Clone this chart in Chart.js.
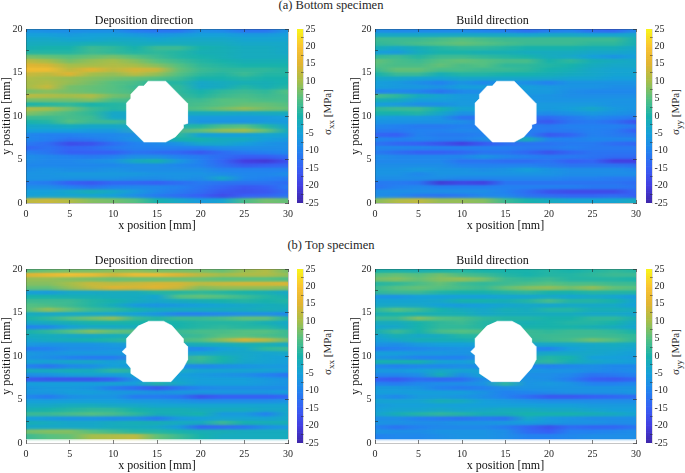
<!DOCTYPE html>
<html>
<head>
<meta charset="utf-8">
<title>Residual stress maps</title>
<script src="https://cdn.jsdelivr.net/npm/chart.js@4"></script>
<style>
  html, body { margin: 0; padding: 0; background: #fff; }
  body { position: relative; width: 685px; height: 473px; overflow: hidden; font-family: "Liberation Serif", serif; color: #262626; }
  canvas { position: absolute; }
  .head { position: absolute; left: 131px; width: 400px; text-align: center; font-size: 12.5px; line-height: 14px; }
  .cblabel { position: absolute; width: 100px; text-align: center; font-size: 11px; line-height: 14px; transform: rotate(-90deg); white-space: nowrap; }
  .cblabel sub { font-size: 9px; line-height: 0; }
</style>
</head>
<body>
<div class="head" style="top:-2px">(a) Bottom specimen</div>
<div class="head" style="top:238px">(b) Top specimen</div>
<div class="cblabel" style="left:277px;top:105px">σ<sub>xx</sub> [MPa]</div>
<div class="cblabel" style="left:625px;top:105px">σ<sub>yy</sub> [MPa]</div>
<div class="cblabel" style="left:277px;top:345px">σ<sub>xx</sub> [MPa]</div>
<div class="cblabel" style="left:625px;top:345px">σ<sub>yy</sub> [MPa]</div>
<canvas id="heatA" width="296" height="219" style="left:0;top:14px"></canvas>
<canvas id="heatB" width="295" height="219" style="left:349px;top:14px"></canvas>
<canvas id="heatC" width="296" height="219" style="left:0;top:254px"></canvas>
<canvas id="heatD" width="295" height="219" style="left:349px;top:254px"></canvas>
<canvas id="barA" width="34" height="219" style="left:292px;top:14px"></canvas>
<canvas id="barB" width="34" height="219" style="left:641px;top:14px"></canvas>
<canvas id="barC" width="34" height="219" style="left:292px;top:254px"></canvas>
<canvas id="barD" width="34" height="219" style="left:641px;top:254px"></canvas>
<script>
// Stress maps, in MPa. One list per row (top row first), one value per
// column of columnX. null = inside the hole.
const n = null;
const columnX = [0, 2.5, 5, 7.5, 10, 12.5, 15, 17.5, 20, 22.5, 25, 27.5, 30];
const rowY = [19.75, 19.25, 18.75, 18.25, 17.75, 17.25, 16.75, 16.25, 15.75, 15.25, 14.75, 14.25, 13.75, 13.25,
  12.75, 12.25, 11.75, 11.25, 10.75, 10.25, 9.75, 9.25, 8.75, 8.25, 7.75, 7.25, 6.75, 6.25, 5.75, 5.25, 4.75,
  4.25, 3.75, 3.25, 2.75, 2.25, 1.75, 1.25, 0.75, 0.25];

const bottomDeposition = [
  [-7,-8,-8,-8,-8,-11,-12,-12,-8,-9,-12,-12,-7],
  [-5,-5,-6,-5,-5,-6,-7,-6,-5,-5,-6,-6,-5],
  [-3,-3,-4,-4,-3,-3,-4,-3,-3,-3,-4,-4,-4],
  [-2,-2,-2,-1,-1,-2,-2,-2,-2,-2,-3,-3,-3],
  [-1,0,0,3,2,0,3,3,0,-1,-2,-2,-3],
  [1,1,1,3,2,1,2,1,-1,-1,-2,-2,-3],
  [7,6,5,6,7,5,3,1,0,-1,-2,-2,-2],
  [12,10,7,9,10,8,5,3,1,0,-1,-1,-1],
  [15,14,10,10,11,10,8,5,2,1,0,0,0],
  [18,18,12,15,12,14,13,6,3,2,2,2,1],
  [13,12,15,10,9,12,9,5,2,1,3,1,1],
  [11,10,9,8,7,6,5,3,0,0,1,0,0],
  [10,11,9,7,5,4,1,1,-3,-2,-1,-1,0],
  [10,13,7,6,5,3,n,2,-3,-2,1,-1,1],
  [7,8,7,6,5,n,n,2,0,2,3,2,5],
  [12,11,10,11,7,n,n,n,1,3,4,3,4],
  [7,7,7,8,4,n,n,n,3,5,5,4,4],
  [0,1,2,0,1,n,n,n,4,5,6,6,5],
  [11,10,7,3,1,n,n,n,5,7,9,7,6],
  [8,6,4,2,-3,n,n,n,-2,-2,-3,-2,-2],
  [3,3,4,3,-3,n,n,n,-6,-6,-6,-6,-5],
  [0,1,5,3,3,n,n,n,-7,-7,-7,-6,-6],
  [-3,-3,-2,-3,-3,n,n,n,1,4,5,1,-4],
  [-5,-5,-5,-6,-6,n,n,n,6,9,10,6,-2],
  [-9,-10,-10,-9,-9,-8,n,2,-5,-5,-5,-4,-4],
  [-9,-10,-12,-11,-9,-7,n,0,0,-2,-2,-5,-6],
  [-11,-13,-18,-17,-13,-10,-9,-7,-3,-3,-5,-7,-8],
  [-14,-12,-14,-13,-11,-10,-10,-10,-10,-8,-8,-8,-8],
  [-10,-12,-15,-15,-15,-12,-13,-14,-16,-13,-11,-10,-9],
  [-8,-9,-10,-11,-10,-8,-8,-10,-11,-13,-15,-15,-13],
  [-8,-9,-9,-8,-7,-2,0,-6,-10,-14,-20,-21,-17],
  [-9,-9,-9,-9,-9,-8,-8,-9,-10,-13,-16,-15,-14],
  [-8,-7,-8,-8,-7,-8,-8,-8,-8,-10,-10,-10,-10],
  [-7,-7,-6,-6,-6,-6,-7,-7,-7,-8,-9,-9,-8],
  [-7,-7,-7,-7,-7,-8,-8,-7,-8,-3,-9,-10,-11],
  [-10,-11,-15,-16,-14,-14,-15,-13,-11,-12,-12,-12,-13],
  [-8,-8,-10,-12,-10,-9,-9,-10,-12,-14,-16,-15,-11],
  [-5,-5,-3,-1,-3,-6,-9,-11,-13,-16,-17,-16,-13],
  [-5,-4,-4,-4,-5,-8,-11,-13,-15,-18,-15,-14,-12],
  [12,13,11,8,7,5,0,-3,-6,-4,4,7,6]
];

const bottomBuild = [
  [-8,-9,-9,-9,-9,-10,-11,-13,-11,-10,-13,-14,-9],
  [-3,-3,-3,-3,-3,-3,-3,-4,-3,-3,-4,-4,-3],
  [3,3,3,4,5,4,3,3,3,3,3,3,-1],
  [2,3,4,5,6,5,4,3,3,3,2,2,-1],
  [-1,-3,-1,1,2,2,1,0,0,0,-1,-1,-3],
  [-5,-6,-2,0,0,-1,-1,-2,-2,-2,-3,-3,-4],
  [2,3,1,3,3,2,1,0,-2,-3,-5,-7,-5],
  [6,4,3,5,6,5,4,4,0,2,-1,-2,-3],
  [5,4,4,6,4,5,2,2,1,0,-2,-3,-3],
  [3,6,6,4,4,3,3,2,0,-1,-3,-4,-4],
  [0,3,3,-1,1,1,0,0,-1,-2,-3,-4,-4],
  [-3,-3,-4,-4,-3,-3,-3,-3,-3,-4,-4,-5,-5],
  [-5,-6,-8,-10,-7,-9,-7,-8,-10,-7,-7,-7,-7],
  [-5,-6,-6,-7,-5,-5,n,-5,-6,-7,-7,-8,-8],
  [-10,-9,-10,-12,-9,n,n,-6,-6,-8,-9,-9,-9],
  [4,2,-2,-4,-6,n,n,n,-7,-8,-8,-8,-8],
  [-1,-2,-5,-5,-6,n,n,n,-7,-7,-7,-7,-7],
  [-5,-6,-8,-8,-6,n,n,n,-6,-6,-6,-7,-7],
  [2,3,3,0,-4,n,n,n,-6,-5,-3,-6,-7],
  [0,0,1,-3,-7,n,n,n,-8,-7,-6,-7,-8],
  [-5,-6,-6,-7,-12,n,n,n,-13,-11,-9,-10,-11],
  [-7,-7,-7,-7,-8,n,n,n,-16,-12,-11,-13,-17],
  [-9,-10,-11,-11,-10,n,n,n,-11,-10,-10,-10,-11],
  [-11,-11,-10,-10,-9,n,n,n,-11,-11,-10,-11,-15],
  [-14,-15,-10,-11,-11,-10,n,-10,-16,-14,-10,-11,-12],
  [-9,-10,-9,-10,-10,-8,n,-1,-9,-10,-9,-9,-9],
  [-12,-14,-15,-17,-20,-16,-13,-12,-12,-11,-11,-13,-14],
  [-9,-9,-9,-10,-10,-10,-10,-11,-11,-10,-11,-11,-11],
  [-11,-13,-15,-15,-14,-12,-12,-14,-17,-14,-12,-12,-12],
  [-8,-9,-9,-9,-9,-7,-9,-10,-11,-11,-12,-13,-13],
  [-9,-9,-9,-9,-12,-12,-13,-13,-12,-15,-14,-20,-20],
  [-8,-8,-8,-8,-10,-10,-10,-10,-11,-12,-12,-12,-13],
  [-7,-7,-6,-7,-7,-8,-7,-5,-7,-8,-8,-8,-9],
  [-7,-7,-9,-7,-7,-7,-7,-7,-7,-8,-8,-8,-8],
  [-8,-8,-8,-8,-9,-9,-9,-9,-9,-10,-10,-11,-11],
  [-11,-11,-12,-21,-19,-20,-12,-12,-12,-12,-12,-12,-13],
  [-12,-10,-9,-10,-10,-10,-10,-10,-10,-10,-11,-11,-12],
  [-8,-8,-8,-8,-8,-8,-10,-13,-17,-18,-18,-18,-14],
  [-8,-9,-11,-12,-11,-9,-9,-12,-13,-14,-14,-13,-15],
  [8,11,12,9,9,8,3,0,-2,-4,-4,-4,-2]
];

// The top specimen has no row at y = 0.25, the map stops at y = 0.5.
const topDeposition = [
  [5,6,7,7,8,8,7,7,7,6,9,11,7],
  [15,17,19,18,14,18,18,15,12,10,11,11,9],
  [9,9,8,7,6,6,6,6,6,5,5,5,4],
  [8,8,10,13,12,13,14,14,12,13,14,14,15],
  [6,6,9,12,15,14,15,13,8,9,9,9,8],
  [-5,-6,-3,-3,-2,-2,1,1,2,1,0,-1,-3],
  [0,0,-1,-1,-2,-2,-4,5,6,5,3,1,-1],
  [3,3,3,1,0,-2,-3,-2,-1,0,1,0,1],
  [5,4,3,1,-2,-6,-7,-6,-5,-4,-3,-2,-1],
  [5,9,6,3,2,0,-2,-2,-2,-2,-2,-1,-2],
  [-2,-3,-3,-3,-4,-5,-7,-10,-10,-9,-8,-8,-9],
  [0,2,5,7,9,3,1,3,3,4,6,6,1],
  [-3,-2,-1,0,0,0,n,0,1,1,1,-1,-3],
  [-10,-9,-5,-3,-3,-2,n,0,1,2,1,1,-2],
  [0,2,5,8,6,n,n,3,4,4,5,5,3],
  [-2,-2,-3,-3,-2,n,n,n,3,5,5,4,3],
  [-4,-2,-1,0,1,n,n,n,5,9,15,12,7],
  [-6,-7,-7,-7,-6,n,n,n,-1,-2,-1,-1,-3],
  [-11,-10,-8,-8,-7,n,n,n,-9,-5,-3,2,3],
  [-6,-7,-6,-6,-6,n,n,n,-4,-3,-3,-4,-3],
  [-7,-8,-10,-11,-11,n,n,n,3,0,-3,-4,-5],
  [-4,-4,-3,-3,-5,n,n,n,2,0,-3,-4,-5],
  [-10,-12,-9,-8,-5,n,n,n,-9,-8,-7,-6,-6],
  [-2,-2,-1,-2,2,n,n,n,-4,-4,-4,-4,-5],
  [-8,-7,-5,-4,-5,-4,n,-5,-6,-7,-8,-10,-12],
  [-16,-17,-17,-17,-15,-7,n,-4,-5,-5,-5,-6,-7],
  [-5,-5,-5,-5,-4,-5,1,-3,-5,-5,-5,-6,-7],
  [-7,-6,-6,-7,-11,-13,-16,-12,-9,-8,-8,-8,-8],
  [-6,-6,-5,-5,-6,-6,-7,-6,-6,-6,-6,-6,-5],
  [-9,-11,-8,-7,-7,-11,-11,-12,-17,-15,-15,-15,-14],
  [-5,-5,-5,-5,-5,-6,-6,-7,-8,-8,-8,-8,-7],
  [-3,-3,-2,-2,-3,-3,-4,-4,-4,-4,-4,-4,-4],
  [-1,0,1,2,2,0,-1,-1,-2,-2,-2,-3,-3],
  [3,3,4,5,4,2,-1,-1,0,-6,-6,-10,-3],
  [-5,-6,-7,-7,-8,-8,-11,-6,-5,-4,-4,-4,-3],
  [-1,-2,-3,-3,-2,-1,-1,-2,-2,3,0,-1,-1],
  [-3,-3,-3,-3,-2,-2,-3,-6,-14,-13,-12,-8,-6],
  [7,8,8,5,3,1,1,0,-1,-1,-2,-2,-2],
  [3,5,6,10,11,12,6,3,0,-2,-2,-2,-2]
];

const topBuild = [
  [0,0,-1,0,1,0,0,0,1,0,1,2,1],
  [5,6,5,7,4,3,1,0,1,1,2,3,3],
  [7,8,6,8,9,7,3,2,3,1,1,1,0],
  [1,2,4,6,3,2,3,4,5,4,4,3,3],
  [3,5,6,5,4,3,6,8,9,7,9,6,5],
  [2,3,3,1,0,0,1,2,0,0,1,1,1],
  [-7,-7,-5,-5,-5,-5,-4,-4,-3,-4,-3,-4,-6],
  [-4,-4,-4,-3,0,0,-1,1,4,1,1,0,-4],
  [-3,-3,-3,-5,-6,-5,-4,-3,-4,-3,-3,-3,-5],
  [2,5,3,0,-2,-3,-1,-2,1,1,-1,-1,-2],
  [-1,0,-1,-1,-1,-3,-2,-2,-2,-2,-3,-3,-4],
  [3,3,8,5,4,2,1,1,0,0,2,2,-1],
  [-2,-2,0,2,3,1,n,-1,0,1,1,0,-3],
  [-4,-3,0,2,2,1,n,0,0,0,-1,-2,-4],
  [-1,3,0,4,5,n,n,3,2,3,3,2,0],
  [-4,-1,-3,-2,1,n,n,n,3,3,3,3,2],
  [-5,-3,-1,-1,-1,n,n,n,3,4,7,5,2],
  [-7,-8,-6,-5,-5,n,n,n,-3,-3,-3,-2,-3],
  [-11,-10,-9,-8,-7,n,n,n,-10,-5,-3,-3,-4],
  [-5,-5,-6,-6,-7,n,n,n,-3,-3,-3,-4,-5],
  [-7,-8,-10,-10,-10,n,n,n,1,0,-5,-5,-6],
  [0,0,0,-4,-5,n,n,n,2,-1,-3,-4,-5],
  [-9,-10,-9,-9,-8,n,n,n,-10,-9,-8,-9,-9],
  [-6,-6,-5,-3,-4,n,n,n,-7,-7,-8,-9,-8],
  [-9,-9,-8,-1,-8,-4,n,-8,-8,-9,-12,-11,-10],
  [-15,-16,-13,-14,-13,-8,n,-7,-8,-11,-15,-16,-14],
  [-10,-11,-9,-8,-8,-7,2,-7,-6,-7,-10,-10,-9],
  [-6,-6,-7,-10,-11,-10,-8,-7,-7,-7,-7,-7,-7],
  [-5,-5,-5,-5,-5,-7,-10,-9,-8,-7,-7,-7,-6],
  [-7,-9,-6,-6,-7,-8,-10,-13,-16,-16,-15,-14,-13],
  [-4,-4,-4,-1,-2,-5,-6,-7,-8,-8,-8,-8,-8],
  [-6,-5,-5,-5,-5,-5,-5,-5,-5,-5,-6,-6,-6],
  [-5,-4,-4,-3,-4,-3,-2,-2,-3,-3,-4,-5,-5],
  [-4,-1,1,2,1,-1,-1,0,0,0,-1,-2,-4],
  [-8,-8,-10,-11,-12,-11,-12,-3,-6,-7,-8,-8,-8],
  [-7,-7,-8,-8,-7,-7,-6,-5,-6,-7,-7,-8,-8],
  [-10,-12,-10,-9,-9,-9,-11,-14,-17,-13,-14,-14,-12],
  [-7,-8,-8,-7,-7,-7,-8,-13,-15,-10,-10,-9,-8],
  [-10,-9,-9,-8,-7,-7,-8,-10,-10,-9,-8,-8,-8]
];

// Outline of the hole in mm, different for the two specimens.
const holeBottomX = [13.95, 16, 18.5, 18.5, 18, 18, 17.1, 16, 13.5, 11.5, 11.5, 12, 12, 12.9, 13.45];
const holeBottomY = [14, 14, 11.45, 9.15, 9, 8.6, 7.6, 7, 7, 9, 11.5, 12, 12.5, 13.45, 13.45];
const holeTopX = [14, 15.75, 16.7, 18, 18, 18.5, 18.5, 18, 16.6, 13.4, 12, 12, 11.5, 11.5, 11, 11.5, 11.5, 12.9];
const holeTopY = [14, 14, 13.5, 12, 11.6, 11.1, 9.55, 8.6, 7.05, 7.05, 8, 8.6, 9.2, 10.1, 10.5, 11, 12, 13.5];

// Colour scale: stress value -> colour, linear between the stops.
const scaleValues = [-25, -20, -15, -10, -5, 0, 5, 10, 15, 20, 25];
const scaleColors = [[62,38,168],[68,62,225],[55,95,245],[35,130,240],[22,160,218],[24,178,172],
  [85,192,130],[165,190,75],[225,180,50],[250,195,50],[249,245,25]];

const AXIS = "#262626";
const FONT = "'Liberation Serif', serif";

function colorOf(v) {
  const t = Math.min(Math.max((v + 25) / 5, 0), scaleValues.length - 1.001);
  const i = Math.floor(t), f = t - i;
  const c = scaleColors[i].map((a, k) => Math.round(a + (scaleColors[i + 1][k] - a) * f));
  return "rgb(" + c.join(",") + ")";
}

// Fixed axis boxes, so the plot areas land where the figure has them.
const fixWidth = (w) => (s) => { s.width = w; s.paddingTop = s.paddingBottom = 0; };
const fixHeight = (h) => (s) => { s.height = h; s.paddingLeft = s.paddingRight = 0; };

// Ticks point into the plot (negative length), and sit above the bars (z).
function tickGrid() {
  return { drawOnChartArea: false, tickLength: -3, color: AXIS, lineWidth: 0.6, z: 1 };
}
const frame = { color: "rgba(38,38,38,0.45)", width: 0.6, z: 1 };

// Softens the steps between rows on the second copy of the bars.
const softRows = {
  id: "softRows",
  beforeDatasetDraw(chart, args) { if (args.index === 1) chart.ctx.filter = "blur(1.4px)"; },
  afterDatasetDraw(chart, args) { if (args.index === 1) chart.ctx.filter = "none"; },
};

// Each row is one bar across the plot, painted with a gradient through its column values.
function rowFill(rows) {
  return (ctx) => {
    const chart = ctx.chart;
    if (!chart.chartArea || ctx.dataIndex == null) return "#fff";
    const xs = chart.scales.x;
    const g = chart.ctx.createLinearGradient(xs.getPixelForValue(0), 0, xs.getPixelForValue(30), 0);
    rows[ctx.dataIndex].forEach((v, i) => {
      if (v !== null) g.addColorStop(columnX[i] / 30, colorOf(v));
    });
    return g;
  };
}

function drawMap(id, rows, holeX, holeY, title) {
  const bars = rows.map((r, i) => ({ x: [0, 30], y: rowY[i] }));
  const common = { type: "bar", indexAxis: "y", data: bars, backgroundColor: rowFill(rows),
    borderWidth: 0, barPercentage: 1, categoryPercentage: 1, grouped: false };
  return new Chart(document.getElementById(id), {
    data: {
      datasets: [
        Object.assign({ order: 3 }, common),
        Object.assign({ order: 2 }, common),
        { type: "line", order: 1, data: holeX.map((x, i) => ({ x, y: holeY[i] })), fill: "shape",
          backgroundColor: "#fff", borderColor: "#fff", borderWidth: 0.5, pointRadius: 0, tension: 0 },
      ],
    },
    plugins: [softRows],
    options: {
      responsive: false,
      animation: false,
      events: [],
      layout: { padding: { right: 8 } },
      plugins: {
        legend: { display: false },
        tooltip: { enabled: false },
        title: { display: true, text: title, color: "#111", padding: { top: 0, bottom: 2 },
          font: { family: FONT, size: 12, weight: "normal", lineHeight: "13px" } },
      },
      scales: {
        x: { type: "linear", min: 0, max: 30, offset: false, afterFit: fixHeight(30),
          ticks: { stepSize: 5, color: AXIS, padding: 8, maxRotation: 0, font: { family: FONT, size: 10 } },
          grid: tickGrid(), border: frame,
          title: { display: true, text: "x position [mm]", color: "#111", padding: 0,
            font: { family: FONT, size: 12, lineHeight: "14px" } } },
        y: { type: "linear", min: 0, max: 20, offset: false, afterFit: fixWidth(26),
          ticks: { stepSize: 5, color: AXIS, padding: 6.5, font: { family: FONT, size: 10 } },
          grid: tickGrid(), border: frame,
          title: { display: true, text: "y position [mm]", color: "#111", padding: 0,
            font: { family: FONT, size: 12, lineHeight: "14px" } } },
        xTop: { type: "linear", position: "top", min: 0, max: 30, afterFit: fixHeight(0),
          ticks: { stepSize: 5, display: false }, grid: tickGrid(), border: frame },
        yRight: { type: "linear", position: "right", min: 0, max: 20, afterFit: fixWidth(0),
          ticks: { stepSize: 5, display: false }, grid: tickGrid(), border: frame },
      },
    },
  });
}

function drawColorbar(id) {
  const levels = [];
  for (let v = -25; v < 25; v += 0.5) levels.push(v);
  return new Chart(document.getElementById(id), {
    type: "bar",
    data: {
      datasets: [{
        data: levels.map((v) => ({ x: [0, 1], y: v + 0.25 })),
        backgroundColor: levels.map((v) => colorOf(v + 0.25)),
        borderWidth: 0, barPercentage: 1, categoryPercentage: 1,
      }],
    },
    options: {
      indexAxis: "y",
      responsive: false,
      animation: false,
      events: [],
      layout: { padding: { left: 5, top: 15, bottom: 30 } },
      plugins: { legend: { display: false }, tooltip: { enabled: false } },
      scales: {
        x: { type: "linear", min: 0, max: 1, display: false },
        y: { type: "linear", position: "right", min: -25, max: 25, offset: false, afterFit: fixWidth(23),
          ticks: { stepSize: 5, color: AXIS, padding: 4.5, font: { family: FONT, size: 10 } },
          grid: { drawOnChartArea: false, tickLength: -2, color: AXIS, lineWidth: 0.5, z: 1 },
          border: { color: "rgba(38,38,38,0.3)", width: 0.5, z: 1 } },
      },
    },
  });
}

drawMap("heatA", bottomDeposition, holeBottomX, holeBottomY, "Deposition direction");
drawMap("heatB", bottomBuild, holeBottomX, holeBottomY, "Build direction");
drawMap("heatC", topDeposition, holeTopX, holeTopY, "Deposition direction");
drawMap("heatD", topBuild, holeTopX, holeTopY, "Build direction");
["barA", "barB", "barC", "barD"].forEach(drawColorbar);
</script>
</body>
</html>
